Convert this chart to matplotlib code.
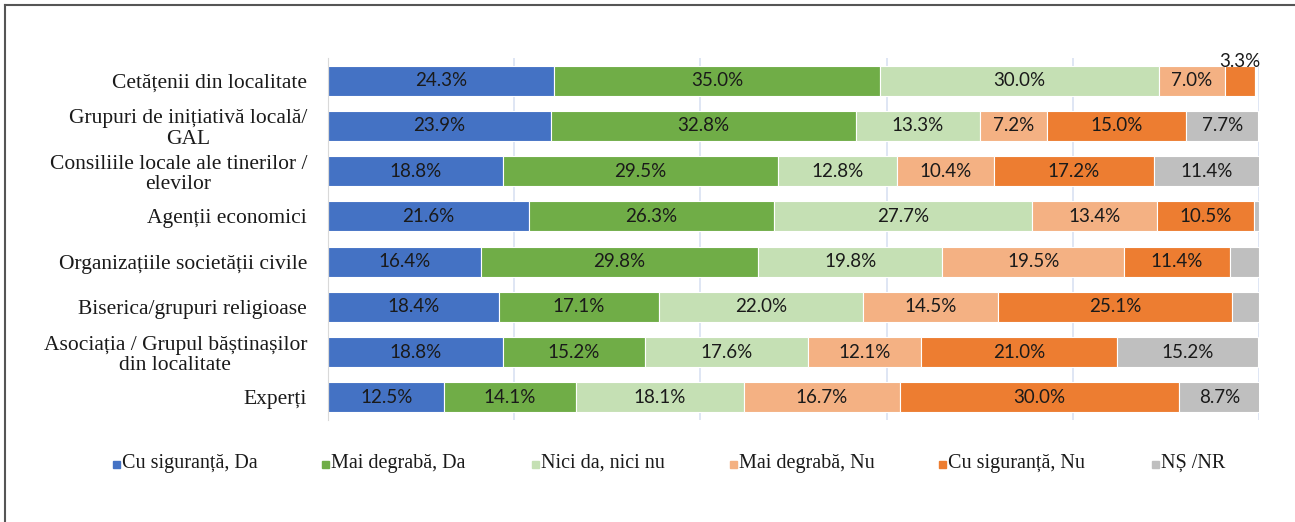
import matplotlib.pyplot as plt
import numpy as np
from matplotlib.lines import Line2D
from matplotlib.patches import Rectangle

categorii = ['Cetățenii din localitate', 'Grupuri de inițiativă locală/\nGAL',
             'Consiliile locale ale tinerilor /\nelevilor', 'Agenții economici',
             'Organizațiile societății civile', 'Biserica/grupuri religioase',
             'Asociația / Grupul băștinașilor\ndin localitate', 'Experți']
serii = ['Cu siguranță, Da', 'Mai degrabă, Da', 'Nici da, nici nu',
         'Mai degrabă, Nu', 'Cu siguranță, Nu', 'NȘ /NR']

cu_sig_da = [24.3, 23.9, 18.8, 21.6, 16.4, 18.4, 18.8, 12.5]
mai_da = [35.0, 32.8, 29.5, 26.3, 29.8, 17.1, 15.2, 14.1]
nici = [30.0, 13.3, 12.8, 27.7, 19.8, 22.0, 17.6, 18.1]
mai_nu = [7.0, 7.2, 10.4, 13.4, 19.5, 14.5, 12.1, 16.7]
cu_sig_nu = [3.3, 15.0, 17.2, 10.5, 11.4, 25.1, 21.0, 30.0]
ns_nr = [0.0, 7.7, 11.4, 0.5, 3.1, 2.9, 15.2, 8.7]

culori = ['#4472C4', '#70AD47', '#C5E0B4', '#F4B183', '#ED7D31', '#BFBFBF']

date = [cu_sig_da, mai_da, nici, mai_nu, cu_sig_nu, ns_nr]

W, H = 1295, 522
fig = plt.figure(figsize=(W / 100, H / 100), dpi=100)
ax = fig.add_axes([328 / W, 1 - 420 / H, 931 / W, 362 / H])

y = np.arange(len(categorii))
stanga = np.zeros(len(categorii))
for vals, cul, nume in zip(date, culori, serii):
    vals = np.array(vals)
    ax.barh(y, vals, left=stanga, height=0.66, color=cul, edgecolor='white',
            linewidth=0.8, label=nume, zorder=2)
    for i, v in enumerate(vals):
        if v >= 5:
            ax.text(stanga[i] + v / 2, y[i], f'{v:.1f}%', ha='center', va='center',
                    fontsize=13.5, family='Lato', color='#1a1a1a', zorder=3)
        elif v >= 3.2:
            # eticheta mica deasupra barei
            ax.text(stanga[i] + v / 2, y[i] - 0.42, f'{v:.1f}%', ha='center',
                    va='center', fontsize=13.5, family='Lato', color='#1a1a1a', zorder=3)
    stanga += vals

ax.set_xlim(0, 100)
ax.set_ylim(len(categorii) - 0.5, -0.5)
ax.set_yticks(y)
ax.set_yticklabels(categorii, family='Liberation Serif', fontsize=15.5,
                   linespacing=1.1)
for t in ax.get_yticklabels():
    t.set_multialignment('center')
ax.tick_params(axis='y', length=0, pad=15, labelcolor='#1a1a1a')
ax.set_xticks([20, 40, 60, 80, 100])
ax.tick_params(axis='x', length=0, labelbottom=False)
ax.grid(axis='x', color='#D9E1F2', linewidth=1.2, zorder=0)
for s in ['top', 'right', 'bottom']:
    ax.spines[s].set_visible(False)
ax.spines['left'].set_color('#D9D9D9')

# legenda manuala
leg_x = [113, 322, 532, 730, 939, 1152]
for xm, cul, nume in zip(leg_x, culori, serii):
    fig.add_artist(Rectangle((xm / W, 1 - 468 / H), 7 / W, 7 / H, color=cul,
                             transform=fig.transFigure))
    fig.text((xm + 9) / W, 1 - 468 / H, nume, family='Liberation Serif',
             fontsize=14.5, va='baseline', ha='left', color='#1a1a1a')

# chenar
fig.add_artist(Line2D([5 / W, 5 / W], [0, 1 - 5 / H], color='#555555',
                      linewidth=1.5, transform=fig.transFigure))
fig.add_artist(Line2D([5 / W, 1], [1 - 5 / H, 1 - 5 / H], color='#555555',
                      linewidth=1.5, transform=fig.transFigure))

fig.savefig('out.png', dpi=100)
